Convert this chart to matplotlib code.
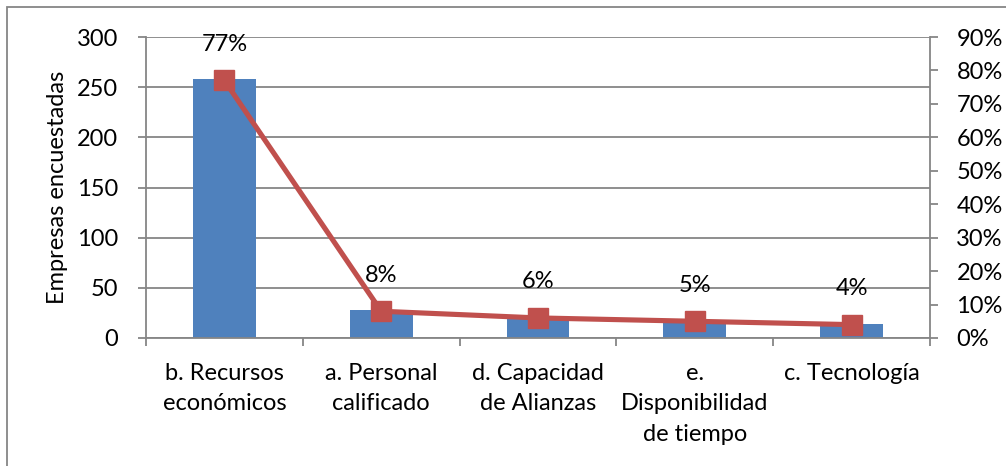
import matplotlib.pyplot as plt
import matplotlib.patches as mpatches
import numpy as np

plt.rcParams['font.family'] = ['Lato', 'DejaVu Sans']

categorias = ["b. Recursos\neconómicos", "a. Personal\ncalificado",
              "d. Capacidad\nde Alianzas", "e.\nDisponibilidad\nde tiempo",
              "c. Tecnología"]
empresas = [258, 28, 19, 16, 14]
porcentajes = [0.77, 0.08, 0.06, 0.05, 0.04]
etiquetas_pct = ["77%", "8%", "6%", "5%", "4%"]

AZUL = '#4F81BD'
ROJO = '#C0504D'
GRIS = '#868686'
FS = 17

fig = plt.figure(figsize=(10.06, 4.66), dpi=100)
ax = fig.add_axes([146 / 1006, 1 - 338 / 466, (930 - 146) / 1006, (338 - 37) / 466])

x = np.arange(len(categorias))
ax.bar(x, empresas, width=0.4, color=AZUL, zorder=2)
ax.set_xlim(-0.5, len(categorias) - 0.5)
ax.set_ylim(0, 300)
ax.set_yticks(range(0, 301, 50))
ax.grid(axis='y', color=GRIS, lw=1.3, zorder=0)
ax.set_ylabel("Empresas encuestadas", fontsize=FS)
ax.yaxis.set_label_coords(-0.099, 0.5)

# ticks del eje x en los limites de categoria, etiquetas centradas
ax.set_xticks(np.arange(-0.5, len(categorias)), minor=False)
ax.set_xticklabels([])
ax.set_xticks(x, minor=True)
ax.set_xticklabels(categorias, minor=True, fontsize=FS, linespacing=1.55)
ax.tick_params(axis='x', which='major', length=6, color=GRIS, width=1.3)
ax.tick_params(axis='x', which='minor', length=0, pad=18)
ax.tick_params(axis='y', length=6, color=GRIS, width=1.3, labelsize=FS, pad=14)

for s in ['top', 'right']:
    ax.spines[s].set_visible(False)
for s in ['left', 'bottom']:
    ax.spines[s].set_color(GRIS)
    ax.spines[s].set_linewidth(1.3)

ax2 = ax.twinx()
ax2.plot(x, porcentajes, color=ROJO, lw=3.7, marker='s', markersize=14,
         markerfacecolor=ROJO, markeredgecolor=ROJO, zorder=3)
ax2.set_ylim(0, 0.9)
ax2.set_yticks(np.arange(0, 0.91, 0.1))
ax2.set_yticklabels([f"{int(round(v * 100))}%" for v in np.arange(0, 0.91, 0.1)])
ax2.tick_params(axis='y', length=6, color=GRIS, width=1.3, labelsize=FS, pad=13)
for s in ['top', 'left', 'bottom']:
    ax2.spines[s].set_visible(False)
ax2.spines['right'].set_color(GRIS)
ax2.spines['right'].set_linewidth(1.3)

for xi, p, t in zip(x, porcentajes, etiquetas_pct):
    ax2.annotate(t, (xi, p), xytext=(0, 26), textcoords='offset points',
                 ha='center', va='center', fontsize=FS)

# marco del grafico
fig.patches.append(mpatches.Rectangle((7 / 1006, -0.1), 1.2, 1 - 7 / 466 + 0.1,
                                      transform=fig.transFigure, fill=False,
                                      edgecolor=GRIS, lw=1.3))

fig.savefig("out.png", dpi=100)
